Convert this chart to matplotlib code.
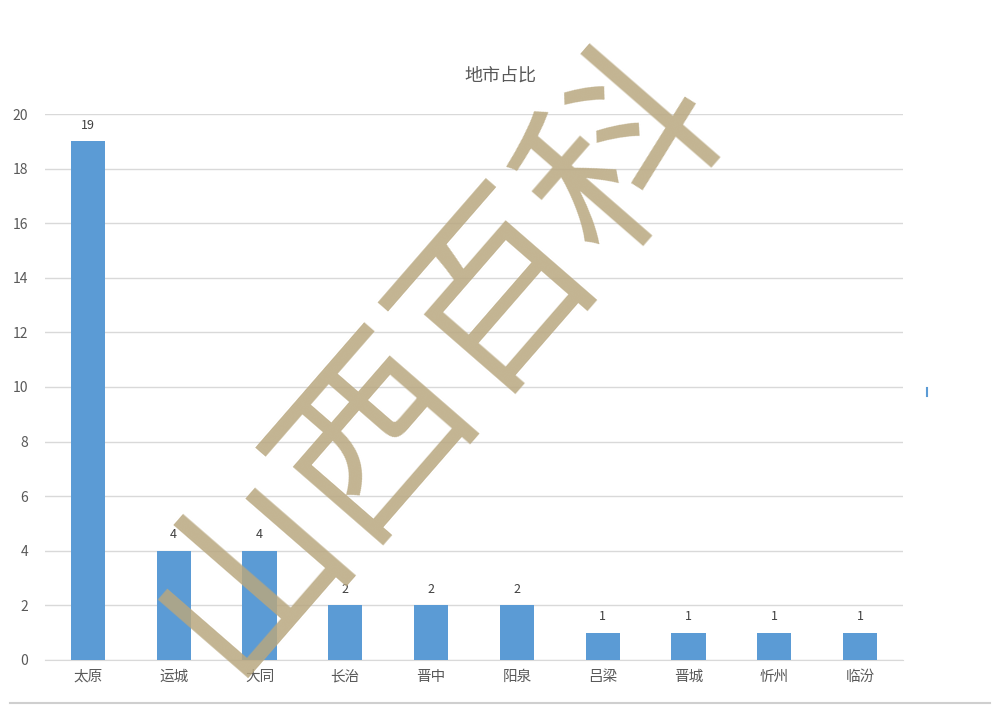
import matplotlib.pyplot as plt
from matplotlib.lines import Line2D

plt.rcParams['font.family'] = ['Noto Sans CJK SC', 'DejaVu Sans']

# 数据
cities = ["太原", "运城", "大同", "长治", "晋中", "阳泉", "吕梁", "晋城", "忻州", "临汾"]
counts = [19, 4, 4, 2, 2, 2, 1, 1, 1, 1]
yticks = [0, 2, 4, 6, 8, 10, 12, 14, 16, 18, 20]

fig = plt.figure(figsize=(10, 7.22), dpi=100)
ax = fig.add_axes([0.045, 0.086, 0.858, 0.756])

x = list(range(len(cities)))
ax.bar(x, counts, width=0.4, color="#5B9BD5", zorder=3)
for xi, v in zip(x, counts):
    ax.text(xi, v + 0.35, str(v), ha="center", va="bottom", fontsize=9, color="#404040", zorder=4)

ax.set_xlim(-0.5, len(cities) - 0.5)
ax.set_ylim(0, 20)
ax.set_yticks(yticks)
ax.set_xticks(x)
ax.set_xticklabels(cities, fontsize=10.5, color="#595959")
ax.tick_params(axis="y", labelsize=10, colors="#595959", length=0, pad=12)
ax.tick_params(axis="x", length=0, pad=7)
ax.grid(axis="y", color="#D9D9D9", linewidth=1, zorder=0)
for s in ["top", "right", "left"]:
    ax.spines[s].set_visible(False)
ax.spines["bottom"].set_color("#D9D9D9")

fig.text(0.5, 0.895, "地市占比", ha="center", va="center", fontsize=13, color="#595959")

# 底部横线和残留小标记
fig.add_artist(Line2D([0.01, 0.99], [0.026, 0.026], color="#CFCFCF", linewidth=1.5))
fig.add_artist(Line2D([0.927, 0.927], [0.452, 0.462], color="#5B9BD5", linewidth=1.5))

# 水印
fig.text(0.435, 0.505, "山西百科", ha="center", va="center", rotation=49,
         fontsize=136, color="#B8A77F", alpha=0.85, fontweight="light", zorder=10)

fig.savefig("out.png", dpi=100)
